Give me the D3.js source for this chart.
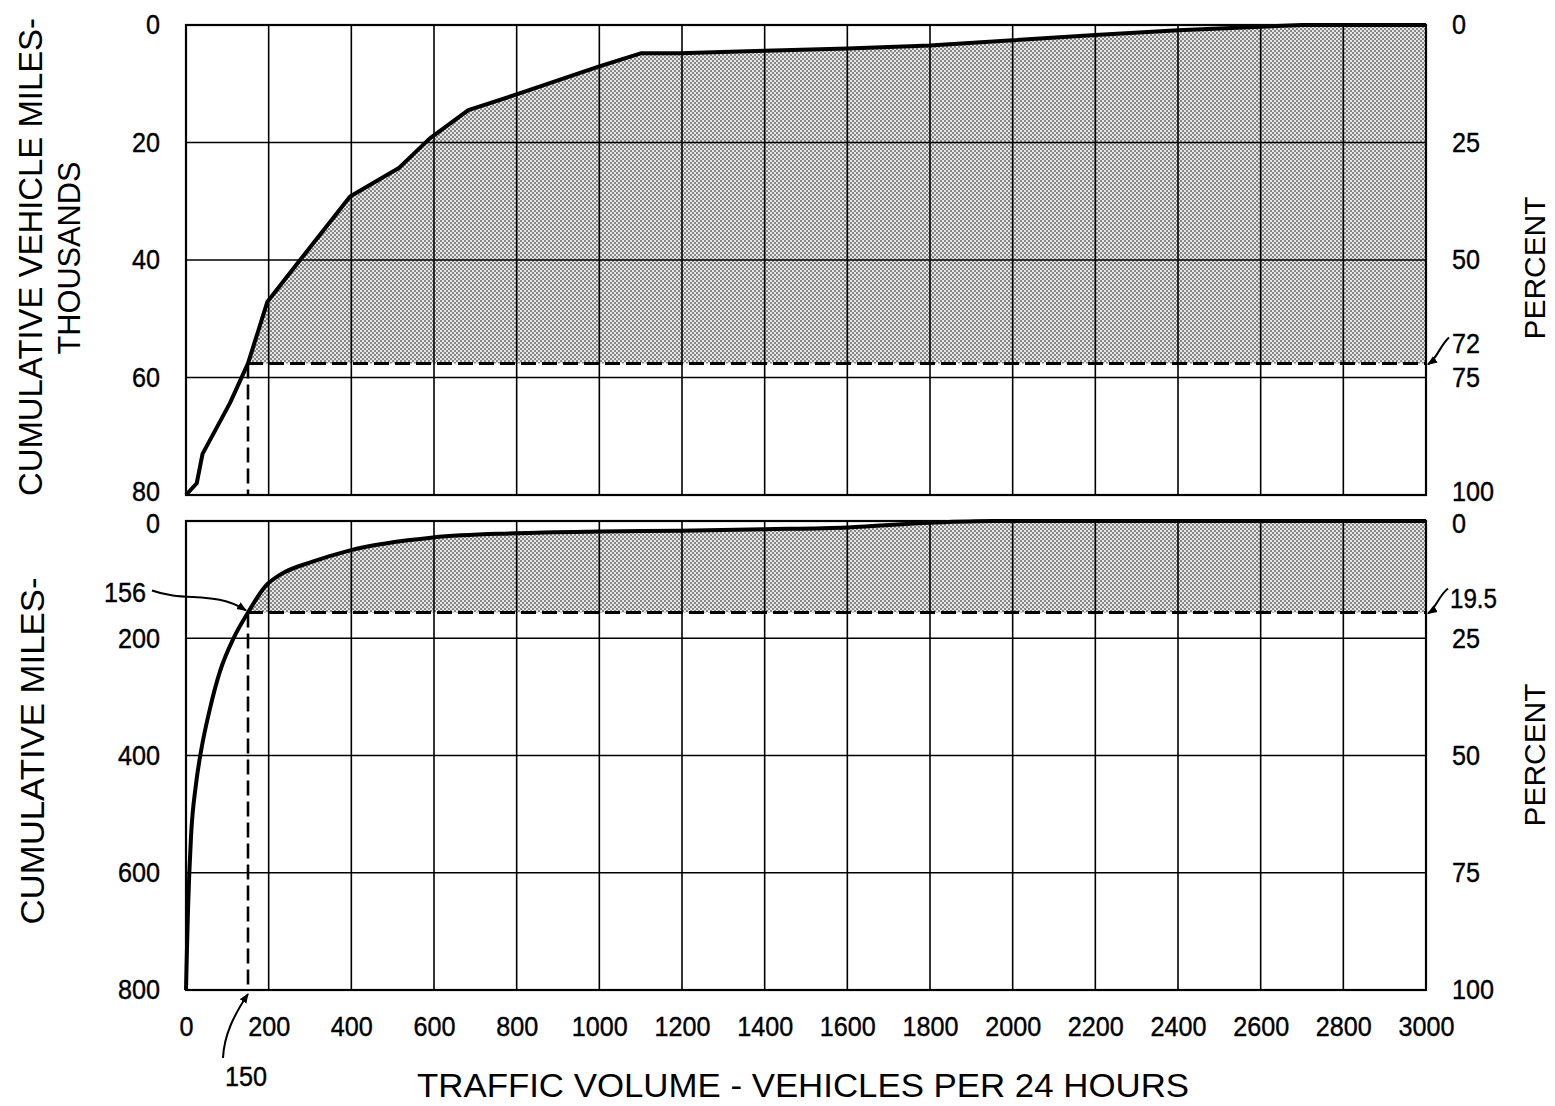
<!DOCTYPE html>
<html>
<head>
<meta charset="utf-8">
<script src="https://cdn.jsdelivr.net/npm/d3@7"></script>
<style>
  html, body { margin: 0; padding: 0; background: #fff; }
  svg { display: block; }
  text { font-family: "Liberation Sans", Arial, sans-serif; fill: #000; }
</style>
</head>
<body>
<svg id="chart" width="1555" height="1106"></svg>
<script>
// ---------------- DATA ----------------
const xTicks = [0,200,400,600,800,1000,1200,1400,1600,1800,2000,2200,2400,2600,2800,3000];

// Top panel: cumulative vehicle miles (thousands)
const topX = [0, 26, 40, 106, 150, 197, 276, 397, 514, 590, 683, 796, 998, 1102, 1195, 1400, 1600, 1800, 2000, 2200, 2400, 2600, 2700, 3000];
const topY = [80, 78, 73, 64.4, 57.6, 47.1, 40, 29.2, 24.4, 19.3, 14.5, 11.9, 7.1, 4.8, 4.8, 4.4, 4.0, 3.5, 2.6, 1.7, 0.9, 0.3, 0, 0];
const topLeftTicks = [0, 20, 40, 60, 80];
const topRightTicks = [0, 25, 50, 75, 100];
const topThreshold = 57.6;      // 72 percent
const topThresholdPct = 72;

// Bottom panel: cumulative miles
const botX = [0, 2, 5, 12, 24, 37, 58, 82, 115, 150, 195, 227, 308, 397, 598, 796, 998, 1195, 1400, 1600, 1800, 1950, 3000];
const botY = [800, 740, 660, 540, 450, 390, 320, 257, 200, 156, 109, 92, 69, 50, 28, 21, 18, 16.5, 14, 11, 3, 0, 0];
const botLeftTicks = [0, 200, 400, 600, 800];
const botRightTicks = [0, 25, 50, 75, 100];
const botThreshold = 156;       // 19.5 percent
const botThresholdPct = 19.5;

const xMark = 150;

// ---------------- LAYOUT ----------------
const svg = d3.select("#chart");
const X0 = 186, X1 = 1426;
const topR = [25, 495];
const botR = [521, 990];
const fontSize = 28;
const digitW = 14;

const x = d3.scaleLinear().domain([0, 3000]).range([X0, X1]);
const yTop = d3.scaleLinear().domain([0, 80]).range(topR);
const yTopPct = d3.scaleLinear().domain([0, 100]).range(topR);
const yBot = d3.scaleLinear().domain([0, 800]).range(botR);
const yBotPct = d3.scaleLinear().domain([0, 100]).range(botR);

const defs = svg.append("defs");
const pat = defs.append("pattern").attr("id", "stip").attr("patternUnits", "userSpaceOnUse")
  .attr("width", 4).attr("height", 4);
pat.append("rect").attr("width", 4).attr("height", 4).attr("fill", "#e6e6e6");
pat.append("circle").attr("cx", 1).attr("cy", 1).attr("r", 0.9).attr("fill", "#5a5a5a");
pat.append("circle").attr("cx", 3).attr("cy", 3).attr("r", 0.9).attr("fill", "#5a5a5a");

const mk = defs.append("marker").attr("id", "arr").attr("viewBox", "0 0 10 10")
  .attr("refX", 9).attr("refY", 5).attr("markerWidth", 5).attr("markerHeight", 5)
  .attr("orient", "auto-start-reverse").attr("markerUnits", "strokeWidth");
mk.append("path").attr("d", "M0,1 L10,5 L0,9 Z").attr("fill", "#000");

function styleTicks(sel) {
  sel.selectAll("text").attr("font-size", fontSize).attr("font-family", null)
    .attr("stroke", "#000").attr("stroke-width", 0.4)
    .attr("textLength", function() { return this.textContent.length * digitW; })
    .attr("lengthAdjust", "spacingAndGlyphs");
}

function panel(xs, ys, yScale, pctScale, leftTicks, rightTicks, thr, range, curveType, isTop) {
  const pts = xs.map((d, i) => ({x: d, y: ys[i]}));
  const g = svg.append("g");

  const fillPts = pts.filter(p => p.x >= xMark);
  const area = d3.area().x(p => x(p.x)).y0(yScale(thr)).y1(p => yScale(p.y)).curve(curveType);
  g.append("path").datum(fillPts).attr("d", area).attr("fill", "url(#stip)");

  g.append("g").selectAll("line").data(xTicks.slice(1, -1)).join("line")
    .attr("x1", d => x(d)).attr("x2", d => x(d)).attr("y1", range[0]).attr("y2", range[1])
    .attr("stroke", "#000").attr("stroke-width", 1.6);
  g.append("g").selectAll("line").data(leftTicks.slice(1, -1)).join("line")
    .attr("x1", X0).attr("x2", X1).attr("y1", d => yScale(d)).attr("y2", d => yScale(d))
    .attr("stroke", "#000").attr("stroke-width", 1.6);

  g.append("rect").attr("x", X0).attr("y", range[0]).attr("width", X1 - X0).attr("height", range[1] - range[0])
    .attr("fill", "none").attr("stroke", "#000").attr("stroke-width", 2.2);

  g.append("line").attr("x1", x(xMark)).attr("x2", X1).attr("y1", yScale(thr)).attr("y2", yScale(thr))
    .attr("stroke", "#000").attr("stroke-width", 3).attr("stroke-dasharray", "15,6");
  g.append("line").attr("x1", x(xMark)).attr("x2", x(xMark)).attr("y1", yScale(thr)).attr("y2", range[1])
    .attr("stroke", "#000").attr("stroke-width", 2.6).attr("stroke-dasharray", "15,6");

  const line = d3.line().x(p => x(p.x)).y(p => yScale(p.y)).curve(curveType);
  g.append("path").datum(pts).attr("d", line).attr("fill", "none")
    .attr("stroke", "#000").attr("stroke-width", 4).attr("stroke-linejoin", "round");

  const la = g.append("g").attr("transform", `translate(${X0},0)`)
    .call(d3.axisLeft(yScale).tickValues(leftTicks).tickSize(0).tickPadding(26).tickFormat(d3.format("d")));
  la.select(".domain").remove();
  styleTicks(la);

  const ra = g.append("g").attr("transform", `translate(${X1},0)`)
    .call(d3.axisRight(pctScale).tickValues(rightTicks).tickSize(0).tickPadding(26).tickFormat(d3.format("d")));
  ra.select(".domain").remove();
  styleTicks(ra);

  [la, ra].forEach(a => {
    a.selectAll(".tick").filter((d, i, n) => isTop ? i === n.length - 1 : i === 0)
      .select("text").attr("y", isTop ? -3 : 3);
  });
  return g;
}

panel(topX, topY, yTop, yTopPct, topLeftTicks, topRightTicks, topThreshold, topR, d3.curveLinear, true);
panel(botX, botY, yBot, yBotPct, botLeftTicks, botRightTicks, botThreshold, botR, d3.curveMonotoneX, false);

const xa = svg.append("g").attr("transform", `translate(0,${botR[1]})`)
  .call(d3.axisBottom(x).tickValues(xTicks).tickSize(0).tickPadding(26).tickFormat(d3.format("d")));
xa.select(".domain").remove();
styleTicks(xa);

function label(txt, tx, ty, anchor) {
  svg.append("text").attr("x", tx).attr("y", ty).attr("text-anchor", anchor || "start")
    .attr("dominant-baseline", "central").attr("font-size", fontSize)
    .attr("stroke", "#000").attr("stroke-width", 0.4)
    .attr("textLength", txt.replace(".", "").length * digitW + (txt.includes(".") ? 5 : 0))
    .attr("lengthAdjust", "spacingAndGlyphs").text(txt);
}
function leader(d) {
  svg.append("path").attr("d", d).attr("fill", "none").attr("stroke", "#000")
    .attr("stroke-width", 2).attr("marker-end", "url(#arr)");
}

const y72 = yTopPct(topThresholdPct);
label(String(topThresholdPct), X1 + 26, y72 - 20);
leader(`M${X1 + 23},${y72 - 26} C${X1 + 14},${y72 - 18} ${X1 + 12},${y72 - 6} ${X1 + 2},${y72 + 1}`);

const y195 = yBotPct(botThresholdPct);
label(String(botThresholdPct), X1 + 24, y195 - 14);
leader(`M${X1 + 22},${y195 - 24} C${X1 + 12},${y195 - 16} ${X1 + 10},${y195 - 4} ${X1 + 2},${y195 + 1}`);

const p156 = [x(xMark), yBot(botThreshold)];
label(String(botThreshold), 146, p156[1] - 20, "end");
leader(`M152,${p156[1] - 22} C185,${p156[1] - 10} 215,${p156[1] - 22} ${p156[0] - 2},${p156[1] - 2}`);

label(String(xMark), x(xMark) - 2, 1076, "middle");
leader(`M${x(xMark) - 25},1058 C${x(xMark) - 24},1035 ${x(xMark) - 14},1015 ${x(xMark)},${botR[1] + 4}`);

function vtitle(txt, cx, cy, len, size) {
  svg.append("text").attr("transform", `translate(${cx},${cy}) rotate(-90)`)
    .attr("text-anchor", "middle").attr("font-size", size)
    .attr("textLength", len).attr("lengthAdjust", "spacingAndGlyphs").text(txt);
}
vtitle("CUMULATIVE VEHICLE MILES-", 42, 257, 478, 33);
vtitle("THOUSANDS", 80, 258, 193, 31);
vtitle("CUMULATIVE MILES-", 44, 751, 347, 34);
vtitle("PERCENT", 1545, 268, 143, 30);
vtitle("PERCENT", 1545, 755, 143, 30);

svg.append("text").attr("x", 803).attr("y", 1097).attr("text-anchor", "middle")
  .attr("font-size", 34).attr("textLength", 772).attr("lengthAdjust", "spacingAndGlyphs")
  .text("TRAFFIC  VOLUME - VEHICLES PER 24 HOURS");
</script>
</body>
</html>
